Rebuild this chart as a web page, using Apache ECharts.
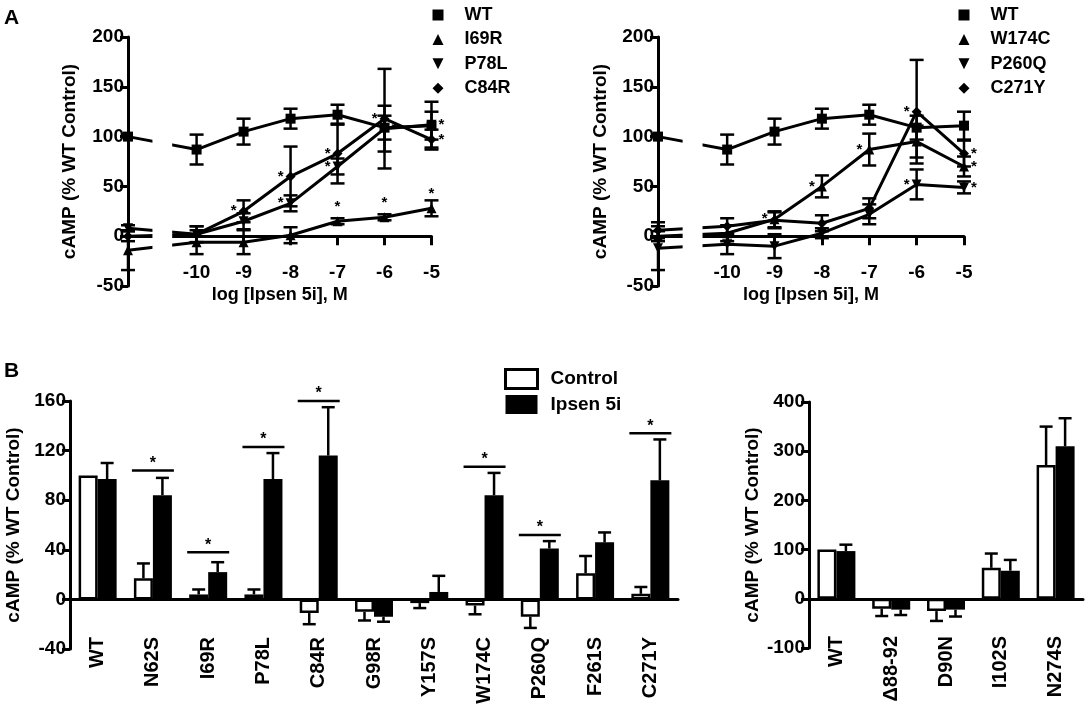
<!DOCTYPE html>
<html><head><meta charset="utf-8">
<script src="https://cdn.jsdelivr.net/npm/echarts@6/dist/echarts.min.js"></script>
<style>html,body{margin:0;padding:0;background:#fff}#c{width:1089px;height:711px}</style>
</head><body><div id="c"></div>
<script>
// ---------------- DATA ----------------
// Panel A: first value of each series = control (no drug), then log doses below
const doses = [-10, -9, -8, -7, -6, -5];
const wtA      = [100, 87, 105, 118, 122, 109, 111];
const wtAErr   = [0, 15, 13, 10, 10, 12, 14];
// A left
const i69rA    = [-14, -6, -6, 1, 15, 19, 28];
const i69rAErr = [20, 12, 12, 8, 3, 3, 8];
const p78lA    = [8, 2, 15, 33, 70, 108, 112];
const p78lAErr = [3, 8, 8, 8, 8, 23, 23];
const c84rA    = [0, 2, 25, 60, 83, 118, 97];
const c84rAErr = [5, 8, 11, 30, 30, 50, 10];
// A right
const w174cA    = [0, 3, 17, 50, 87, 95, 70];
const w174cAErr = [5, 8, 8, 11, 16, 16, 10];
const p260qA    = [-12, -8, -10, 3, 22, 52, 49];
const p260qAErr = [22, 10, 12, 5, 10, 15, 6];
const c271yA    = [6, 10, 16, 13, 28, 125, 83];
const c271yAErr = [8, 8, 8, 8, 10, 52, 13];
// significance stars on panel A points (1 = starred)
const i69rSig  = [0,0,0,0,1,1,1];
const p78lSig  = [0,0,0,1,1,1,1];
const c84rSig  = [0,0,1,1,1,1,1];
const w174cSig = [0,0,1,1,1,0,1];
const p260qSig = [0,0,0,0,0,1,1];
const c271ySig = [0,0,0,0,0,1,1];

// Panel B left
const catsB1    = ['WT','N62S','I69R','P78L','C84R','G98R','Y157S','W174C','P260Q','F261S','C271Y'];
const ctrlB1    = [100, 17, 4, 4, -11, -10, -3, -5, -14, 21, 4.5];
const ctrlB1Err = [0, 12, 4, 4, 9, 7, 4, 7, 9, 14, 5.5];
const ipsB1     = [97, 84, 22, 97, 116, -14, 6, 84, 41, 46, 96];
const ipsB1Err  = [13, 14, 8, 21, 39, 4, 13, 18, 6, 8, 33];
const sigB1     = [null, 104, 38, 123, 160, null, null, 107, 52, null, 134];
// Panel B right
const catsB2    = ['WT','\u039488-92','D90N','I102S','N274S'];
const ctrlB2    = [100, -20, -25, 63, 272];
const ctrlB2Err = [0, 15, 20, 29, 78];
const ipsB2     = [97, -22, -22, 57, 310];
const ipsB2Err  = [13, 11, 14, 22, 57];

// ---------------- LAYOUT / STYLE ----------------
const F = '"Liberation Sans", Arial, Helvetica, sans-serif';
const CTRL_X = -11.46;           // where the control point sits on the broken axis
const BREAK = [-10.94, -10.52];  // axis break
const BAR_W = 19;
const DOWN = 'path://M0,0L10,0L5,10Z';
const txt = (s) => ({fontFamily: F, fontWeight: 'bold', fontSize: s, color: '#000'});
const xs = [CTRL_X].concat(doses);

function yAx(grid, min, max, interval, gap) {
  return {
    type: 'value', gridIndex: grid, min, max, interval,
    name: 'cAMP (% WT Control)', nameLocation: 'middle', nameGap: gap,
    nameTextStyle: txt(19),
    axisLine: {show: true, onZero: false, lineStyle: {color: '#000', width: 3}},
    axisTick: {show: true, length: 8, lineStyle: {color: '#000', width: 3}},
    axisLabel: Object.assign(txt(19), {margin: 4}),
    splitLine: {show: false}
  };
}
function xAxA(grid) {
  return {
    type: 'value', gridIndex: grid, min: CTRL_X, max: -5,
    name: 'log [Ipsen 5i], M', nameLocation: 'middle', nameGap: 0, nameTextStyle: txt(18),
    axisLine: {onZero: true, lineStyle: {color: '#000', width: 3}},
    axisTick: {customValues: doses, length: 9, lineStyle: {color: '#000', width: 3}},
    axisLabel: Object.assign(txt(19), {customValues: doses, margin: -23}),
    splitLine: {show: false}
  };
}
function xAxB(grid, cats) {
  return {
    type: 'category', gridIndex: grid, data: cats,
    axisLine: {onZero: true, lineStyle: {color: '#000', width: 3}},
    axisTick: {alignWithLabel: true, interval: 0, length: 9, lineStyle: {color: '#000', width: 3}},
    axisLabel: Object.assign(txt(20), {rotate: 90, margin: -12, interval: 0}),
    splitLine: {show: false}
  };
}
function lineS(name, vals, sig, symbol, grid, starPos) {
  return {
    type: 'line', name, xAxisIndex: grid, yAxisIndex: grid, symbol, symbolSize: 10,
    clip: false, z: 4, silent: true,
    lineStyle: {color: '#000', width: 3}, itemStyle: {color: '#000'},
    data: vals.map((v, i) => {
      const d = {value: [xs[i], v]};
      if (sig && sig[i]) {
        d.label = Object.assign(txt(15), {show: true, formatter: '*', position: starPos(i), distance: 2});
      }
      return d;
    })
  };
}
function errA(name, vals, errs, grid) {
  return {
    type: 'custom', name, xAxisIndex: grid, yAxisIndex: grid, z: 3, silent: true, clip: false,
    data: vals.map((v, i) => [xs[i], v, errs[i]]),
    renderItem: function (p, api) {
      const x = api.value(0), y = api.value(1), e = api.value(2);
      if (!e) return null;
      const t = api.coord([x, y + e]), b = api.coord([x, y - e]);
      const s = {stroke: '#000', lineWidth: 2.5, fill: null};
      const cw = 7;
      return {type: 'group', children: [
        {type: 'line', shape: {x1: t[0], y1: t[1], x2: b[0], y2: b[1]}, style: s},
        {type: 'line', shape: {x1: t[0] - cw, y1: t[1], x2: t[0] + cw, y2: t[1]}, style: s},
        {type: 'line', shape: {x1: b[0] - cw, y1: b[1], x2: b[0] + cw, y2: b[1]}, style: s}
      ]};
    }
  };
}
function breakS(grid) {
  return {
    type: 'custom', name: 'break' + grid, xAxisIndex: grid, yAxisIndex: grid, z: 20, silent: true, clip: false,
    data: [[BREAK[0], BREAK[1]]],
    renderItem: function (p, api) {
      const a = api.coord([api.value(0), 200]), b = api.coord([api.value(1), -50]);
      return {type: 'rect', shape: {x: a[0], y: a[1], width: b[0] - a[0], height: b[1] - a[1]}, style: {fill: '#fff'}};
    }
  };
}
function barS(name, vals, grid, style) {
  return {type: 'bar', name, xAxisIndex: grid, yAxisIndex: grid, data: vals, barWidth: BAR_W, barGap: '0%',
    itemStyle: style, silent: true, z: 2};
}
function errB(name, vals, errs, side, grid) {
  return {
    type: 'custom', name, xAxisIndex: grid, yAxisIndex: grid, z: 3, silent: true, clip: false,
    data: vals.map((v, i) => [i, v, errs[i]]),
    renderItem: function (p, api) {
      const i = api.value(0), v = api.value(1), e = api.value(2);
      if (!e) return null;
      const dir = v < 0 ? -1 : 1;
      const a = api.coord([i, v]), b = api.coord([i, v + dir * e]);
      const x = a[0] + side * BAR_W / 2;
      const s = {stroke: '#000', lineWidth: 2.5, fill: null};
      return {type: 'group', children: [
        {type: 'line', shape: {x1: x, y1: a[1], x2: x, y2: b[1]}, style: s},
        {type: 'line', shape: {x1: x - 6.5, y1: b[1], x2: x + 6.5, y2: b[1]}, style: s}
      ]};
    }
  };
}
function sigS(grid) {
  return {
    type: 'custom', name: 'sig', xAxisIndex: grid, yAxisIndex: grid, z: 5, silent: true, clip: false,
    data: sigB1.map((v, i) => [i, v]).filter(d => d[1] != null),
    renderItem: function (p, api) {
      const c = api.coord([api.value(0), api.value(1)]);
      return {type: 'group', children: [
        {type: 'line', shape: {x1: c[0] - 21, y1: c[1], x2: c[0] + 21, y2: c[1]}, style: {stroke: '#000', lineWidth: 2.5}},
        {type: 'text', style: {text: '*', x: c[0], y: c[1] + 1, align: 'center', verticalAlign: 'bottom',
          font: 'bold 16px ' + F, fill: '#000'}}
      ]};
    }
  };
}

const legendTxt = Object.assign(txt(18), {padding: [0, 0, 0, 16], lineHeight: 20});
const option = {
  animation: false,
  textStyle: {fontFamily: F},
  grid: [
    {left: 128, right: 657.5, top: 37, bottom: 425, outerBoundsMode: 'none', containLabel: false},
    {left: 658, right: 125, top: 37, bottom: 425, outerBoundsMode: 'none', containLabel: false},
    {left: 70, right: 411, top: 401, bottom: 62, outerBoundsMode: 'none', containLabel: false},
    {left: 809, right: 6, top: 402, bottom: 63, outerBoundsMode: 'none', containLabel: false}
  ],
  xAxis: [xAxA(0), xAxA(1), xAxB(2, catsB1), xAxB(3, catsB2)],
  yAxis: [yAx(0, -50, 200, 50, 49), yAx(1, -50, 200, 50, 47.5), yAx(2, -40, 160, 40, 43), yAx(3, -100, 400, 100, 46.5)],
  legend: [
    {orient: 'vertical', left: 432.5, top: 5, padding: 0, itemWidth: 11, itemHeight: 11, itemGap: 4.4, selectedMode: false,
     textStyle: legendTxt, itemStyle: {color: '#000'},
     data: [{name: 'WT', icon: 'rect'}, {name: 'I69R', icon: 'triangle'}, {name: 'P78L', icon: DOWN}, {name: 'C84R', icon: 'diamond'}]},
    {orient: 'vertical', left: 958.5, top: 5, padding: 0, itemWidth: 11, itemHeight: 11, itemGap: 4.4, selectedMode: false,
     textStyle: legendTxt, itemStyle: {color: '#000'},
     data: [{name: 'WT', icon: 'rect'}, {name: 'W174C', icon: 'triangle'}, {name: 'P260Q', icon: DOWN}, {name: 'C271Y', icon: 'diamond'}]},
    {orient: 'vertical', left: 504, top: 368, padding: 0, itemWidth: 32, itemHeight: 19, itemGap: 5, selectedMode: false,
     textStyle: Object.assign(txt(19), {padding: [0, 0, 0, 8]}),
     data: [{name: 'Control', icon: 'rect', itemStyle: {color: '#fff', borderColor: '#000', borderWidth: 3}},
            {name: 'Ipsen 5i', icon: 'rect', itemStyle: {color: '#000'}}]}
  ],
  graphic: [
    {type: 'text', left: 4, top: 8, style: {text: 'A', font: 'bold 21px ' + F, fill: '#000'}},
    {type: 'text', left: 4, top: 361, style: {text: 'B', font: 'bold 21px ' + F, fill: '#000'}}
  ],
  series: [
    // A left
    errA('eWT0', wtA, wtAErr, 0), errA('eI69R', i69rA, i69rAErr, 0), errA('eP78L', p78lA, p78lAErr, 0), errA('eC84R', c84rA, c84rAErr, 0),
    lineS('WT', wtA, null, 'rect', 0),
    lineS('I69R', i69rA, i69rSig, 'triangle', 0, () => 'top'),
    lineS('P78L', p78lA, p78lSig, DOWN, 0, (i) => i >= 5 ? 'right' : 'left'),
    lineS('C84R', c84rA, c84rSig, 'diamond', 0, (i) => i === 6 ? 'right' : 'left'),
    breakS(0),
    // A right
    errA('eWT1', wtA, wtAErr, 1), errA('eW174C', w174cA, w174cAErr, 1), errA('eP260Q', p260qA, p260qAErr, 1), errA('eC271Y', c271yA, c271yAErr, 1),
    lineS('WT', wtA, null, 'rect', 1),
    lineS('W174C', w174cA, w174cSig, 'triangle', 1, (i) => i === 6 ? 'right' : 'left'),
    lineS('P260Q', p260qA, p260qSig, DOWN, 1, (i) => i === 6 ? 'right' : 'left'),
    lineS('C271Y', c271yA, c271ySig, 'diamond', 1, (i) => i === 6 ? 'right' : 'left'),
    breakS(1),
    // B left
    barS('Control', ctrlB1, 2, {color: '#fff', borderColor: '#000', borderWidth: 2.5}),
    barS('Ipsen 5i', ipsB1, 2, {color: '#000'}),
    errB('eCtrlB1', ctrlB1, ctrlB1Err, -1, 2), errB('eIpsB1', ipsB1, ipsB1Err, 1, 2),
    sigS(2),
    // B right
    barS('Control', ctrlB2, 3, {color: '#fff', borderColor: '#000', borderWidth: 2.5}),
    barS('Ipsen 5i', ipsB2, 3, {color: '#000'}),
    errB('eCtrlB2', ctrlB2, ctrlB2Err, -1, 3), errB('eIpsB2', ipsB2, ipsB2Err, 1, 3)
  ]
};
const chart = echarts.init(document.getElementById('c'), null, {renderer: 'canvas'});
chart.setOption(option);
</script>
</body></html>
